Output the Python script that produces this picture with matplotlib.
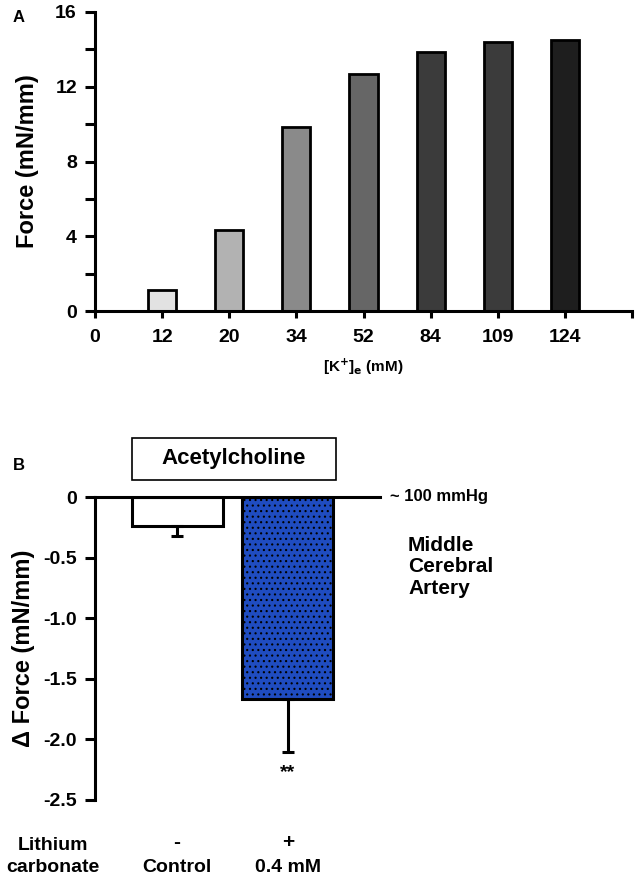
import matplotlib
matplotlib.use('Agg')
import matplotlib.pyplot as plt
from matplotlib.patches import Rectangle

plt.rcParams['font.family'] = ['Liberation Sans', 'DejaVu Sans']
plt.rcParams['font.weight'] = 'bold'
plt.rcParams['axes.labelweight'] = 'bold'
plt.rcParams['hatch.linewidth'] = 0.8

# ── Data ─────────────────────────────────────────────────────────────────────
k_labels  = ['12', '20', '34', '52', '84', '109', '124']
k_force   = [1.15, 4.35, 9.85, 12.7, 13.85, 14.4, 14.5]
k_colors  = ['#e2e2e2', '#b2b2b2', '#8a8a8a', '#666666', '#3b3b3b', '#3b3b3b', '#1e1e1e']

b_groups  = ['Control', '0.4 mM']
b_signs   = ['-', '+']
b_delta   = [-0.24, -1.67]
b_sem     = [0.08, 0.43]
b_colors  = ['white', '#1f4cc0']
b_hatches = ['', '...']

LW = 2.2
fig = plt.figure(figsize=(6.38, 8.82), dpi=100)

# ── Panel A ──────────────────────────────────────────────────────────────────
axA = fig.add_axes([95/638, 1 - 311/882, 537/638, 299/882])
xa = list(range(1, len(k_force) + 1))
axA.bar(xa, k_force, width=0.42, color=k_colors, edgecolor='black', linewidth=2.0, zorder=2)
axA.set_xlim(0, 8)
axA.set_ylim(0, 16)
axA.set_xticks(range(0, 9))
axA.set_xticklabels(['0'] + k_labels + [''], fontsize=14)
axA.set_yticks(range(0, 17, 2))
axA.set_yticklabels([str(v) if v % 4 == 0 else '' for v in range(0, 17, 2)], fontsize=14)
axA.tick_params(axis='y', length=7, width=LW, pad=6)
axA.tick_params(axis='x', length=5, width=LW, pad=8)
for s in ['top', 'right']:
    axA.spines[s].set_visible(False)
for s in ['left', 'bottom']:
    axA.spines[s].set_linewidth(LW)
axA.set_ylabel('Force (mN/mm)', fontsize=17, labelpad=12)
axA.set_xlabel(r'[K$^{\mathbf{+}}$]$_{\mathbf{e}}$ (mM)', fontsize=11, labelpad=8)
fig.text(13/638, 1 - 18/882, 'A', fontsize=12, ha='left', va='center')

# ── Panel B ──────────────────────────────────────────────────────────────────
axB = fig.add_axes([95/638, 1 - 800/882, 285/638, 303/882])
xb = [1, 2]
for x, v, c, h in zip(xb, b_delta, b_colors, b_hatches):
    axB.bar(x, v, width=0.82, color=c, edgecolor='black', linewidth=2.2, hatch=h, zorder=2)
axB.errorbar(xb, b_delta, yerr=[b_sem, [0, 0]], fmt='none', ecolor='black',
             elinewidth=2.2, capsize=4, capthick=2.2, zorder=3)
axB.set_xlim(0.261, 2.829)
axB.set_ylim(-2.5, 0)
axB.set_yticks([0, -0.5, -1.0, -1.5, -2.0, -2.5])
axB.set_yticklabels(['0', '-0.5', '-1.0', '-1.5', '-2.0', '-2.5'], fontsize=14)
axB.set_xticks([])
axB.tick_params(axis='y', length=7, width=LW, pad=6)
for s in ['bottom', 'right']:
    axB.spines[s].set_visible(False)
for s in ['left', 'top']:
    axB.spines[s].set_linewidth(LW)
axB.set_ylabel('Δ Force (mN/mm)', fontsize=17, labelpad=6)

axB.text(2, -2.27, '**', ha='center', va='center', fontsize=14)
axB.add_patch(Rectangle((0.594, 0.14), 1.838, 0.348, facecolor='white', edgecolor='black',
                        linewidth=1.2, clip_on=False))
axB.text(1.513, 0.314, 'Acetylcholine', ha='center', va='center', fontsize=16)

fig.text(390/638, 1 - 497/882, '~ 100 mmHg', fontsize=12, ha='left', va='center')
fig.text(408/638, 1 - 567/882, 'Middle\nCerebral\nArtery', fontsize=15, ha='left',
         va='center', multialignment='left', linespacing=1.15)
fig.text(13/638, 1 - 465/882, 'B', fontsize=12, ha='left', va='center')

fig.text(53/638, 1 - 845/882, 'Lithium', fontsize=14, ha='center', va='center')
fig.text(53/638, 1 - 868/882, 'carbonate', fontsize=14, ha='center', va='center')
for x, sign, g in zip(xb, b_signs, b_groups):
    xf = (95 + (x - 0.261) * 111) / 638
    fig.text(xf, 1 - 843/882, sign, fontsize=15, ha='center', va='center')
    fig.text(xf, 1 - 868/882, g, fontsize=14, ha='center', va='center')

fig.savefig('out.png', dpi=100)
